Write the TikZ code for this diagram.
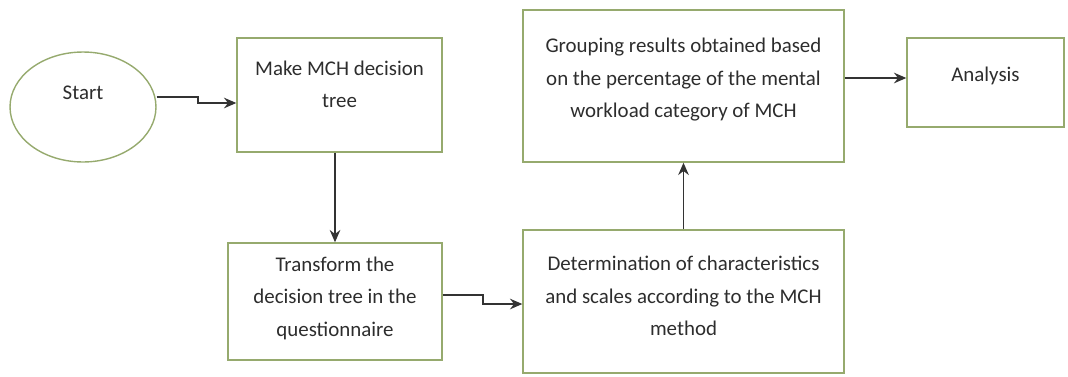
\documentclass[tikz,border=0pt]{standalone}
\usepackage{fontspec}
\setmainfont{Carlito}
\usetikzlibrary{shapes.geometric, arrows, arrows.meta}
\definecolor{boxline}{RGB}{150,170,110}
\definecolor{txt}{RGB}{45,45,45}

\begin{document}
\begin{tikzpicture}[x=0.02cm,y=-0.02cm]
\tikzstyle{startstop} = [ellipse, minimum width=2.92cm, minimum height=2.2cm, text centered, draw=boxline, line width=0.8pt, text=txt]
\tikzstyle{process} = [rectangle, align=center, draw=boxline, line width=0.8pt, text=txt, font=\fontsize{11.9}{18.5}\selectfont]
\tikzstyle{arrow} = [line width=1.1pt, draw=black!80, -{Stealth[length=7pt,width=6pt]}]

\useasboundingbox (0,0) rectangle (1068,376);

\node [startstop, font=\fontsize{11.9}{18.5}\selectfont, text depth=0.56cm] (start) at (83,107) {Start};
\node [process, minimum width=4.1cm, minimum height=2.28cm, text depth=0.44cm] (b1) at (339.5,95) {Make MCH decision\\tree};
\node [process, minimum width=4.28cm, minimum height=2.34cm, text depth=0.2cm] (b2) at (335,301.5) {Transform the\\decision tree in the\\questionnaire};
\node [process, minimum width=6.42cm, minimum height=2.86cm, text depth=0.22cm] (b3) at (683.5,301.5) {Determination of characteristics\\and scales according to the MCH\\method};
\node [process, minimum width=6.42cm, minimum height=3.04cm, text depth=0.33cm] (b4) at (683.5,86) {Grouping results obtained based\\on the percentage of the mental\\workload category of MCH};
\node [process, minimum width=3.14cm, minimum height=1.78cm, text depth=0.32cm] (b5) at (985.5,82.5) {Analysis};

\draw [arrow] ([yshift=0.2cm]start.east) -- ++(41,0) |- ([yshift=-0.16cm]b1.west);
\draw [arrow] (b2.north |- b1.south) -- (b2.north);
\draw [arrow] ([yshift=0.13cm]b2.east) -- ++(40,0) |- ([yshift=-0.05cm]b3.west);
\draw [arrow] (b3.north) -- (b4.south);
\draw [arrow] ([yshift=0.16cm]b4.east) -- ([yshift=0.16cm]b4.east -| b5.west);
\end{tikzpicture}
\end{document}
